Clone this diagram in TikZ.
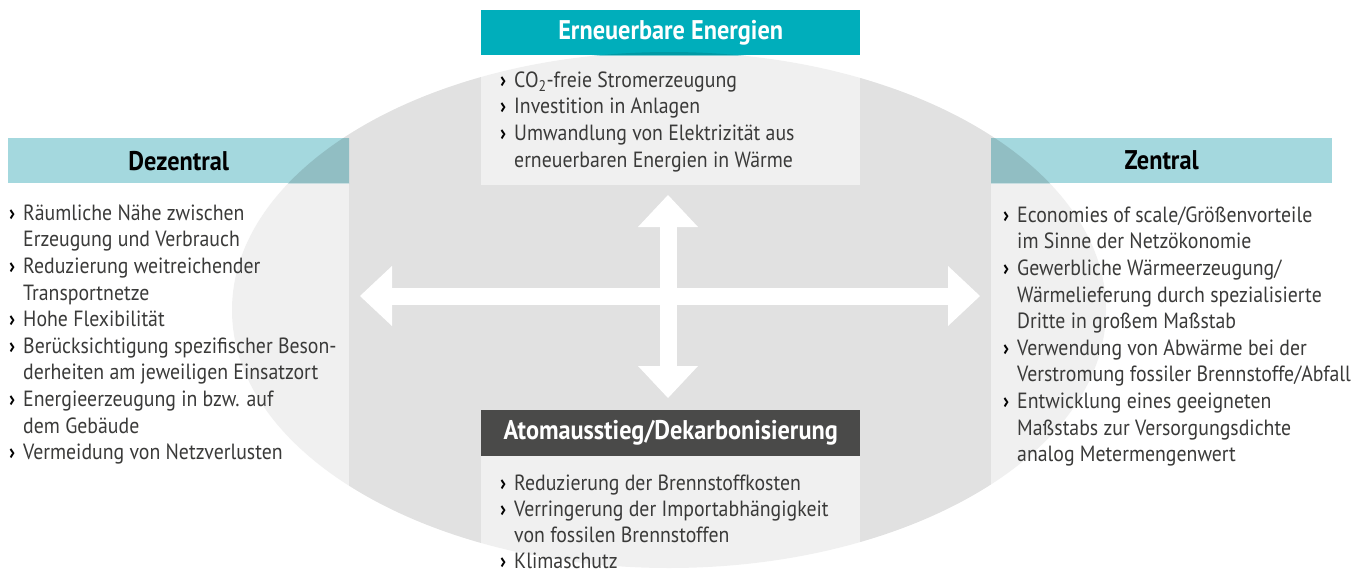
\documentclass[tikz,border=0pt]{standalone}
\usepackage{fontspec}
\setmainfont[FakeStretch=0.9]{PT Sans}
\usepackage{tikz}
\usetikzlibrary{arrows.meta,positioning}

\definecolor{ellgrau}{HTML}{E1E1E1}
\definecolor{petrol}{HTML}{00AEBB}
\definecolor{petroldunkel}{HTML}{009AA5}
\definecolor{hellpetrol}{HTML}{A4D8DE}
\definecolor{hellpetroldunkel}{HTML}{91BEC3}
\definecolor{anthrazit}{HTML}{4A4A49}
\definecolor{schrift}{HTML}{3A3A39}

\newcommand\bul{\textcolor{black}{\bfseries ›}}
\newenvironment{punkte}{\begin{tabular}{@{}p{14pt}@{}l@{}}}{\end{tabular}}

\tikzset{
  kopf/.style={anchor=north west, minimum width=341, minimum height=45, inner sep=0pt,
    font=\fontsize{27}{30}\selectfont\bfseries},
  overlap/.style={path picture={\fill[#1] (mitte) ellipse [x radius=437, y radius=258];}},
  schleier/.style={fill=white, fill opacity=0.5},
  liste/.style={inner sep=0pt, align=left, text=schrift,
    font=\fontsize{22}{26.6}\selectfont},
  pfeil/.style={draw=white, line width=17pt,
    {Triangle[length=32pt 0,width=60pt 0,line width=0pt 0]}-{Triangle[length=32pt 0,width=60pt 0,line width=0pt 0]}}
}

\begin{document}
\begin{tikzpicture}[x=1pt,y=-1pt]
  \useasboundingbox (0,0) rectangle (1370,573);
  \coordinate (mitte) at (669,310);
  \coordinate (unten) at (0,573);
  \fill[ellgrau] (mitte) ellipse [x radius=437, y radius=258];

  \draw (481,10) node[kopf, minimum width=379, fill=petrol, text=white, overlap=petroldunkel] (erneuerbar) {Erneuerbare Energien};
  \draw (8,138) node[kopf, fill=hellpetrol, text=black, overlap=hellpetroldunkel] (dezentral) {Dezentral};
  \draw (991,138) node[kopf, fill=hellpetrol, text=black, overlap=hellpetroldunkel] (zentral) {Zentral};
  \draw (481,410) node[kopf, minimum width=379, minimum height=46, fill=anthrazit, text=white] (atom) {Atomausstieg/Dekarbonisierung};

  \fill[schleier] (erneuerbar.south west) rectangle (erneuerbar.south east |- 0,185);
  \fill[schleier] (dezentral.south west) rectangle (dezentral.south east |- unten);
  \fill[schleier] (zentral.south west) rectangle (zentral.south east |- unten);
  \fill[schleier] (atom.south west) rectangle (atom.south east |- unten);

  \coordinate (west) at (360,296);
  \coordinate (ost) at (980,296);
  \coordinate (nord) at (668,195);
  \coordinate (sued) at (668,398);
  \draw[pfeil] (west) -- (ost);
  \draw[pfeil] (nord) -- (sued);

  \node[liste, below right=13pt and 19pt of erneuerbar.south west] (erneuerbarliste) {%
    \begin{punkte}
    \bul & CO\textsubscript{2}-freie Stromerzeugung\\
    \bul & Investition in Anlagen\\
    \bul & Umwandlung von Elektrizität aus\\
         & erneuerbaren Energien in Wärme
    \end{punkte}};
  \node[liste, below right=18pt and 1pt of dezentral.south west] (dezentralliste) {%
    \begin{punkte}
    \bul & Räumliche Nähe zwischen\\
         & Erzeugung und Verbrauch\\
    \bul & Reduzierung weitreichender\\
         & Transportnetze\\
    \bul & Hohe Flexibilität\\
    \bul & Berücksichtigung spezifischer Beson-\\
         & derheiten am jeweiligen Einsatzort\\
    \bul & Energieerzeugung in bzw. auf\\
         & dem Gebäude\\
    \bul & Vermeidung von Netzverlusten
    \end{punkte}};
  \node[liste, below right=20pt and 12pt of zentral.south west] (zentralliste) {%
    \begin{punkte}
    \bul & Economies of scale/Größenvorteile\\
         & im Sinne der Netzökonomie\\
    \bul & Gewerbliche Wärmeerzeugung/\\
         & Wärmelieferung durch spezialisierte\\
         & Dritte in großem Maßstab\\
    \bul & Verwendung von Abwärme bei der\\
         & Verstromung fossiler Brennstoffe/Abfall\\
    \bul & Entwicklung eines geeigneten\\
         & Maßstabs zur Versorgungsdichte\\
         & analog Metermengenwert
    \end{punkte}};
  \node[liste, below right=16pt and 19pt of atom.south west, font=\fontsize{22}{26}\selectfont] (atomliste) {%
    \begin{punkte}
    \bul & Reduzierung der Brennstoffkosten\\
    \bul & Verringerung der Importabhängigkeit\\
         & von fossilen Brennstoffen\\
    \bul & Klimaschutz
    \end{punkte}};
\end{tikzpicture}
\end{document}
